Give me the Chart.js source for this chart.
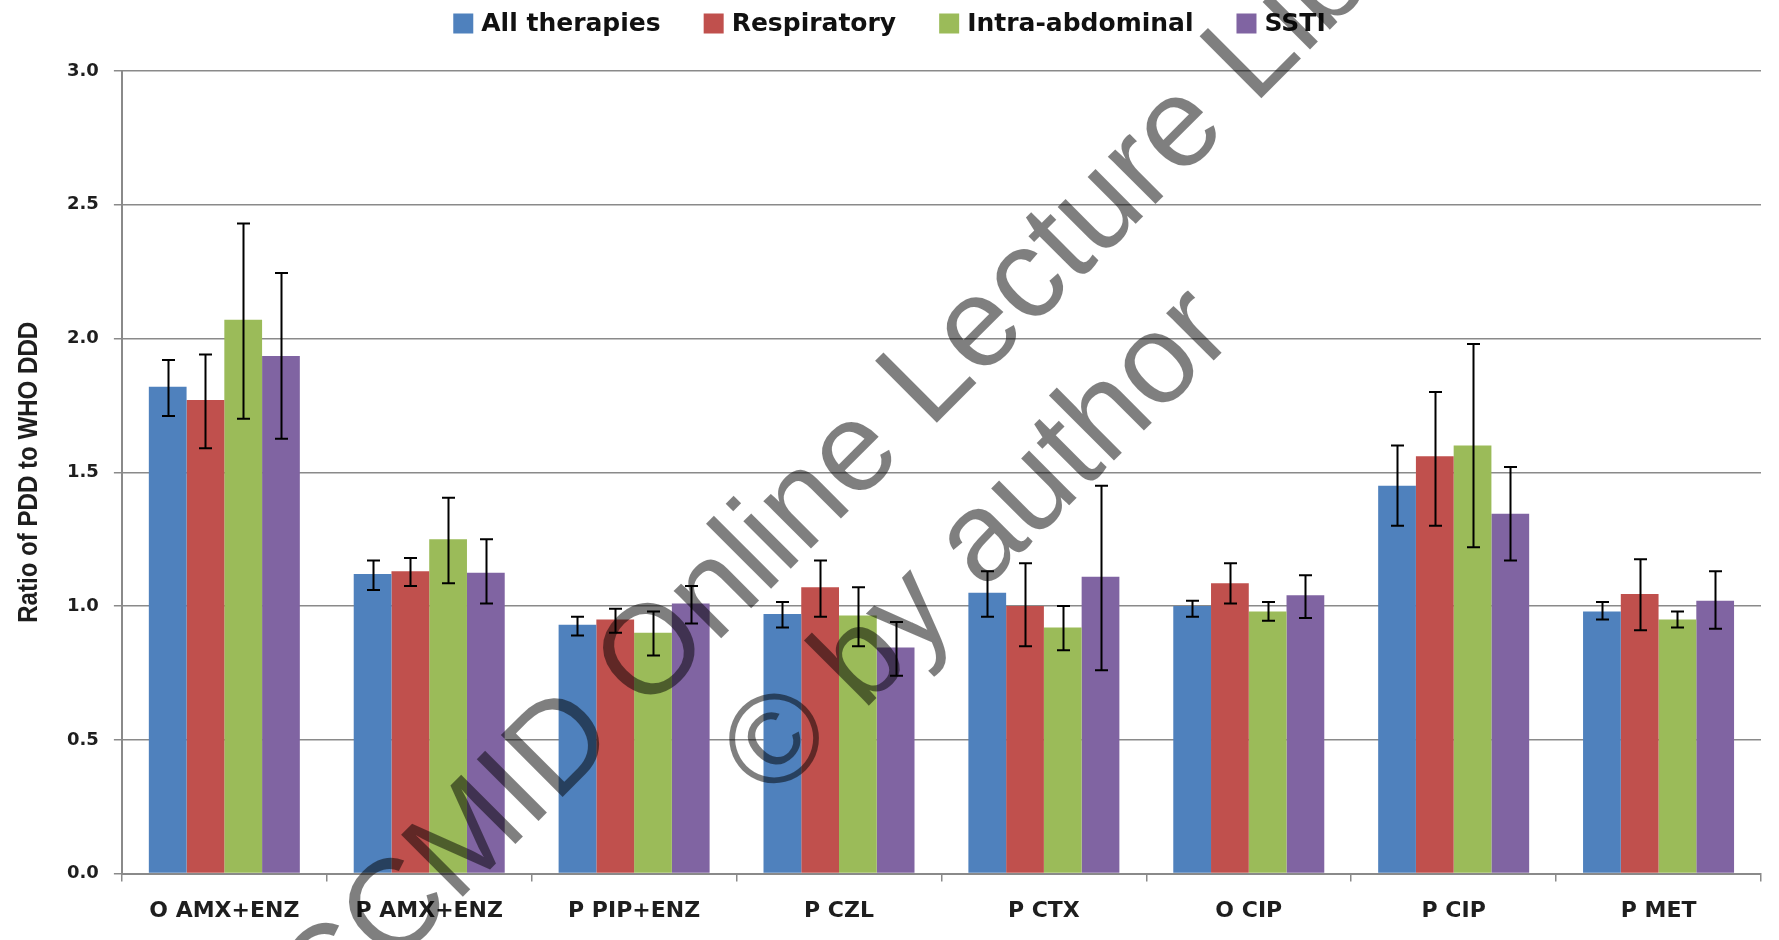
<!DOCTYPE html>
<html><head><meta charset="utf-8">
<script src="https://cdn.jsdelivr.net/npm/chart.js@4.4.0/dist/chart.umd.min.js"></script>
<style>html,body{margin:0;padding:0;background:#fff;} canvas{display:block;}</style>
</head><body>
<canvas id="c" width="1779" height="940"></canvas>
<script>
const categories = ["O AMX+ENZ","P AMX+ENZ","P PIP+ENZ","P CZL","P CTX","O CIP","P CIP","P MET"];
const seriesNames = ["All therapies","Respiratory","Intra-abdominal","SSTI"];
const seriesColors = ["#4F81BD","#C0504D","#9BBB59","#8064A2"];

const allTherapies      = [1.82, 1.12, 0.93, 0.97, 1.05, 1.00, 1.45, 0.98];
const allTherapiesHigh  = [1.92, 1.17, 0.96, 1.015, 1.13, 1.02, 1.60, 1.015];
const allTherapiesLow   = [1.71, 1.06, 0.89, 0.92, 0.96, 0.96, 1.30, 0.95];

const respiratory       = [1.77, 1.13, 0.95, 1.07, 1.00, 1.085, 1.56, 1.045];
const respiratoryHigh   = [1.94, 1.18, 0.99, 1.17, 1.16, 1.16, 1.80, 1.175];
const respiratoryLow    = [1.59, 1.075, 0.90, 0.96, 0.85, 1.01, 1.30, 0.91];

const intraAbdominal     = [2.07, 1.25, 0.90, 0.965, 0.92, 0.98, 1.60, 0.95];
const intraAbdominalHigh = [2.43, 1.405, 0.98, 1.07, 1.00, 1.015, 1.98, 0.98];
const intraAbdominalLow  = [1.70, 1.085, 0.815, 0.85, 0.835, 0.945, 1.22, 0.92];

const ssti     = [1.935, 1.125, 1.01, 0.845, 1.11, 1.04, 1.345, 1.02];
const sstiHigh = [2.245, 1.25, 1.075, 0.94, 1.45, 1.115, 1.52, 1.13];
const sstiLow  = [1.625, 1.01, 0.935, 0.74, 0.76, 0.955, 1.17, 0.915];

const yTickValues = [0.0, 0.5, 1.0, 1.5, 2.0, 2.5, 3.0];
const yAxisTitle = "Ratio of PDD to WHO DDD";
const watermarkLines = ["ECCMID Online Lecture Library", "\u00A9 by author"];

const seriesValues = [allTherapies, respiratory, intraAbdominal, ssti];
const seriesHigh = [allTherapiesHigh, respiratoryHigh, intraAbdominalHigh, sstiHigh];
const seriesLow = [allTherapiesLow, respiratoryLow, intraAbdominalLow, sstiLow];

const gridColor = "#8a8a8a";
const textColor = "#1e1e1e";

const errorBarPlugin = {
  id: "errorBars",
  afterDatasetsDraw(chart) {
    const ctx = chart.ctx, ys = chart.scales.y;
    ctx.save();
    ctx.strokeStyle = "#000";
    ctx.lineWidth = 2;
    chart.data.datasets.forEach((ds, i) => {
      const meta = chart.getDatasetMeta(i);
      meta.data.forEach((bar, j) => {
        const x = Math.round(bar.x) + 0.5;
        const yh = ys.getPixelForValue(ds.errHigh[j]);
        const yl = ys.getPixelForValue(ds.errLow[j]);
        const cw = 6.5;
        ctx.beginPath();
        ctx.moveTo(x, yh); ctx.lineTo(x, yl);
        ctx.moveTo(x - cw, yh); ctx.lineTo(x + cw, yh);
        ctx.moveTo(x - cw, yl); ctx.lineTo(x + cw, yl);
        ctx.stroke();
      });
    });
    ctx.restore();
  }
};

const axisTitlePlugin = {
  id: "yTitle",
  afterDraw(chart) {
    const ctx = chart.ctx, a = chart.chartArea;
    ctx.save();
    ctx.translate(37, (a.top + a.bottom) / 2);
    ctx.rotate(-Math.PI / 2);
    ctx.scale(0.86, 1);
    ctx.font = "bold 28px 'Liberation Sans'";
    ctx.fillStyle = textColor;
    ctx.textAlign = "center";
    ctx.textBaseline = "alphabetic";
    ctx.fillText(yAxisTitle, 0, 0);
    ctx.restore();
  }
};

const legendPlugin = {
  id: "customLegend",
  afterDraw(chart) {
    const ctx = chart.ctx;
    const box = 20, gapText = 8, gapItem = 43, cy = 23.5;
    ctx.save();
    ctx.font = "bold 25px 'DejaVu Sans'";
    const items = chart.data.datasets.map(ds => ({label: ds.label, color: ds.backgroundColor, w: ctx.measureText(ds.label).width}));
    const total = items.reduce((s, it) => s + box + gapText + it.w, 0) + gapItem * (items.length - 1);
    let x = (chart.width - total) / 2;
    ctx.textBaseline = "middle";
    ctx.textAlign = "left";
    items.forEach(it => {
      ctx.fillStyle = it.color;
      ctx.fillRect(x, cy - box / 2, box, box);
      ctx.fillStyle = "#111";
      ctx.fillText(it.label, x + box + gapText, cy + 1);
      x += box + gapText + it.w + gapItem;
    });
    ctx.restore();
  }
};

const watermarkPlugin = {
  id: "watermark",
  afterDraw(chart) {
    const ctx = chart.ctx;
    ctx.save();
    ctx.translate(951, 516);
    ctx.rotate(-Math.PI / 4);
    ctx.font = "127px 'Liberation Sans'";
    ctx.fillStyle = "rgba(0,0,0,0.5)";
    ctx.textAlign = "center";
    ctx.textBaseline = "alphabetic";
    ctx.fillText(watermarkLines[0], 0, -76);
    ctx.fillText(watermarkLines[1], 0, 76);
    ctx.restore();
  }
};

const datasets = seriesNames.map((name, i) => ({
  label: name,
  data: seriesValues[i],
  errHigh: seriesHigh[i],
  errLow: seriesLow[i],
  backgroundColor: seriesColors[i],
  borderWidth: 0,
  categoryPercentage: 0.737,
  barPercentage: 1.0
}));

new Chart(document.getElementById("c"), {
  type: "bar",
  data: { labels: categories, datasets },
  options: {
    responsive: false,
    animation: false,
    devicePixelRatio: 1,
    layout: { padding: { top: 71, left: 52, right: 18, bottom: 0 } },
    plugins: { legend: { display: false }, tooltip: { enabled: false } },
    scales: {
      x: {
        offset: true,
        grid: { display: true, offset: true, drawOnChartArea: false, drawTicks: true, tickLength: 8, color: gridColor, lineWidth: 1.5 },
        border: { display: true, color: gridColor, width: 2 },
        ticks: { color: textColor, padding: 16, font: { family: "'DejaVu Sans'", weight: "bold", size: 22 }, maxRotation: 0 }
      },
      y: {
        min: 0, max: 3,
        afterBuildTicks(scale) { scale.ticks = yTickValues.map(v => ({ value: v })); },
        grid: { color: gridColor, lineWidth: 1.5, tickLength: 8 },
        border: { display: true, color: gridColor, width: 2 },
        ticks: { color: textColor, padding: 15, font: { family: "'DejaVu Sans'", weight: "bold", size: 18 }, callback: v => Number(v).toFixed(1) },
        title: { display: false }
      }
    }
  },
  plugins: [errorBarPlugin, axisTitlePlugin, legendPlugin, watermarkPlugin]
});
</script>
</body></html>
